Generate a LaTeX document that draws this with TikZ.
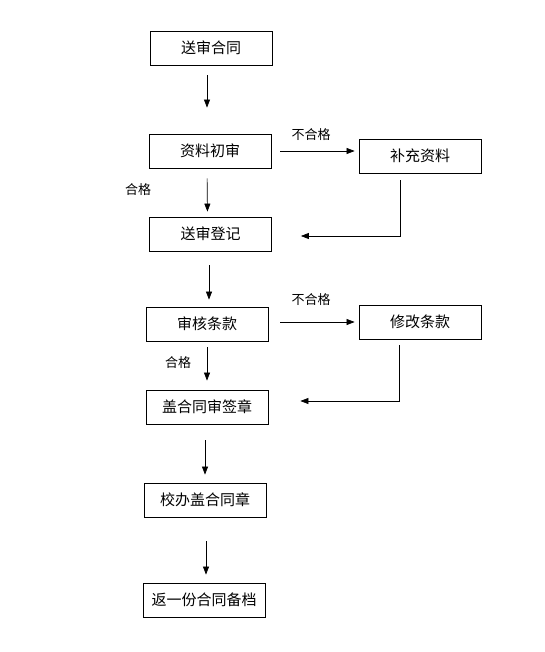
\documentclass[tikz,border=0pt]{standalone}
\usepackage{fontspec}
\setmainfont{Noto Sans CJK SC}
\usetikzlibrary{arrows.meta}

\begin{document}
\begin{tikzpicture}[x=1pt, y=-1pt,
	box/.style={draw, line width=0.8pt, minimum width=122pt, minimum height=34pt, inner sep=0pt, font=\fontsize{15}{18}\selectfont},
	arr/.style={line width=0.7pt, -{Triangle[length=8pt,width=6pt]}},
	lab/.style={font=\fontsize{13}{16}\selectfont}]
	\useasboundingbox (0, 0) rectangle (545, 652);
	
	\node[box] (send) at (211, 48) {送审合同};
	\node[box] (check) at (210, 151) {资料初审};
	\node[box] (supply) at (420, 156) {补充资料};
	\node[box] (reg) at (210.5, 234) {送审登记};
	\node[box] (terms) at (207, 324) {审核条款};
	\node[box] (modify) at (420, 322) {修改条款};
	\node[box] (seal) at (207, 407) {盖合同审签章};
	\node[box] (office) at (205, 500) {校办盖合同章};
	\node[box] (archive) at (204, 600) {返一份合同备档};
	
	\draw[arr, shorten <=10pt, shorten >=26pt] ([xshift=-4pt]send.south) -- ([xshift=-3pt]check.north);
	\draw[arr, shorten <=10pt, shorten >=5pt] ([xshift=-3pt]check.south) -- ([xshift=-3pt]reg.north);
	\draw[arr, shorten <=14pt, shorten >=7pt] ([xshift=-1.5pt]reg.south) -- ([xshift=2pt]terms.north);
	\draw[arr, shorten <=6pt, shorten >=9pt] (terms.south) -- (seal.north);
	\draw[arr, shorten <=16pt, shorten >=8pt] ([xshift=-2pt]seal.south) -- (office.north);
	\draw[arr, shorten <=24pt, shorten >=8pt] ([xshift=1pt]office.south) -- ([xshift=2pt]archive.north);
	
	\draw[arr, shorten <=9pt, shorten >=4pt] (check.east) -- (check.east -| supply.west);
	\draw[arr, shorten <=12pt, shorten >=4pt] ([yshift=2pt]terms.east) -- ([yshift=2pt]terms.east -| modify.west);
	
	\draw[arr, shorten <=7pt, shorten >=29pt] ([xshift=-20pt]supply.south) |- ([yshift=-2pt]reg.east);
	\draw[arr, shorten <=6pt, shorten >=32pt] ([xshift=-21pt]modify.south) |- ([yshift=6pt]seal.east);
	
	\node[lab] (no1) at (311, 135) {不合格};
	\node[lab] (no2) at (311, 300) {不合格};
	\node[lab] (ok1) at (138, 190) {合格};
	\node[lab] (ok2) at (178, 363) {合格};
\end{tikzpicture}
\end{document}
